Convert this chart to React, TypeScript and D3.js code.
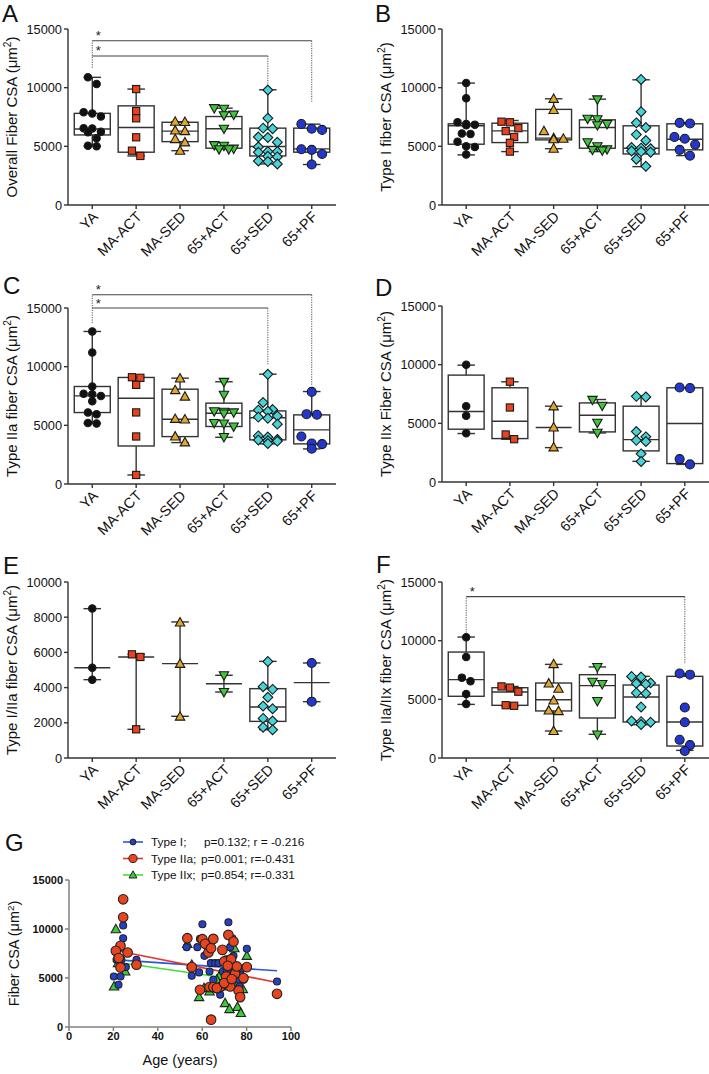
import React from "react";
import * as d3 from "d3";

const FONT = "'Liberation Sans', Arial, Helvetica, sans-serif";

// ---------- categories & styles ----------
const groups = ["YA", "MA-ACT", "MA-SED", "65+ACT", "65+SED", "65+PF"];
const groupColors = ["#111111", "#e8421e", "#e3a62c", "#3fc63a", "#46d4d9", "#2437cc"];
const groupShapes = ["circle", "square", "triangle", "triangleDown", "diamond", "circle"];
const groupSizes = [7.4, 7.2, 8.4, 8.4, 8.2, 9.0];

// ---------- Panel A: Overall fiber CSA ----------
const aPoints = [
  [10880, 10310, 7900, 7800, 7550, 6550, 6530, 6250, 6200, 5680, 5050, 5000],
  [9880, 8010, 7390, 5770, 4630, 4180],
  [7100, 7080, 6350, 6300, 5620, 5340, 4620],
  [8250, 8200, 7700, 7650, 6500, 5100, 5050, 4800, 4750, 4750],
  [9800, 7400, 6550, 6500, 5800, 5750, 5350, 4950, 4550, 4550, 4500, 4150, 4100, 3750, 3700, 3500],
  [6900, 6500, 6400, 4750, 4700, 4350, 3450],
];
// [min, Q1, median, Q3, max]
const aStats = [
  [5030, 5970, 6480, 7810, 10880],
  [4180, 4500, 6600, 8450, 9880],
  [4630, 5400, 6300, 7050, 7100],
  [4780, 4840, 6500, 7540, 8250],
  [3500, 4180, 4980, 6550, 9820],
  [3450, 4500, 4780, 6550, 6890],
];
const aBrackets = [
  { to: "65+PF", level: 14000, drop: 8800 },
  { to: "65+SED", level: 12700, drop: 10050 },
];
const aBracketStart = 11700;

// ---------- Panel B: Type I ----------
const bPoints = [
  [10400, 9100, 7050, 6900, 6850, 6800, 6100, 6050, 5400, 5000, 4950, 4300],
  [7100, 7050, 6550, 6300, 5800, 5300, 4550],
  [9050, 8100, 6300, 5700, 5650, 5600, 4800],
  [9000, 7350, 7300, 6900, 6800, 5350, 5000, 4750, 4700, 4650],
  [10700, 7950, 7000, 6600, 6000, 5500, 4900, 4850, 4800, 4600, 4550, 4500, 3900, 3300],
  [7000, 6950, 5800, 5650, 5150, 4700, 4200],
];
const bStats = [
  [4270, 5180, 6750, 6920, 10390],
  [4550, 5320, 6320, 6970, 7200],
  [4800, 5550, 5700, 8150, 9050],
  [4550, 4840, 6600, 7260, 9020],
  [3270, 4350, 4840, 6750, 10670],
  [4210, 4700, 5610, 6920, 7020],
];

// ---------- Panel C: Type IIa ----------
const cPoints = [
  [13000, 11200, 8300, 7700, 7650, 7500, 7050, 6100, 5950, 5200, 5150],
  [9100, 9050, 8450, 6100, 4050, 770],
  [9000, 8000, 7450, 5550, 5500, 4050, 3550],
  [8700, 7600, 6200, 6150, 6100, 6000, 5200, 5150, 4900, 4000],
  [9350, 6950, 6350, 6300, 6200, 5800, 5700, 5600, 5100, 4100, 4000, 3800, 3750, 3700, 3650, 3450],
  [7850, 5950, 5900, 4050, 3450, 3400, 3000],
];
const cStats = [
  [5180, 6090, 7510, 8310, 13000],
  [770, 3240, 7310, 9080, 9080],
  [3530, 4040, 5520, 8080, 9020],
  [3980, 4900, 6030, 6890, 8710],
  [3420, 3760, 5640, 6230, 9360],
  [2990, 3420, 4610, 5890, 7880],
];
const cBrackets = [
  { to: "65+PF", level: 16130, drop: 8370 },
  { to: "65+SED", level: 15000, drop: 10160 },
];
const cBracketStart = 13720;

// ---------- Panel D: Type IIx ----------
const dPoints = [
  [10000, 6450, 5650, 4150],
  [8550, 6350, 4050, 3650],
  [6450, 4650, 2950],
  [7000, 6500, 5050, 4200],
  [7300, 7250, 4300, 3850, 3550, 3450, 2400, 1750],
  [8050, 8000, 1950, 1500],
];
const dStats = [
  [4130, 4500, 6010, 9110, 9960],
  [3640, 3700, 5180, 8030, 8540],
  [2930, null, 4640, null, 6460],
  [4180, 4270, 5690, 6740, 7030],
  [1760, 2650, 3610, 6460, 7310],
  [1500, 1570, 4980, 8030, 8030],
];

// ---------- Panel E: Type I/IIa ----------
const ePoints = [
  [8500, 5130, 4450],
  [5890, 5740, 1630],
  [7700, 5350, 2350],
  [4700, 3750],
  [5480, 4050, 3900, 3450, 2950, 2800, 2250, 2100, 1750, 1600],
  [5400, 3200],
];
const eStats = [
  [4450, null, 5130, null, 8485],
  [1630, null, 5740, null, 5890],
  [2370, null, 5360, null, 7730],
  [3750, null, 4220, null, 4700],
  [1610, 2080, 2900, 3940, 5490],
  [3200, null, 4280, null, 5400],
];

// ---------- Panel F: Type IIa/IIx ----------
const fPoints = [
  [10300, 8600, 6850, 6550, 5450, 4600],
  [6100, 6000, 5650, 4500, 4450],
  [8000, 6350, 5900, 4900, 4050, 4000, 2300],
  [7750, 6500, 6300, 4850, 2000],
  [6950, 6900, 6400, 6350, 6300, 5550, 5500, 4350, 3150, 3100, 3050, 2850],
  [7200, 7100, 4300, 3050, 1550, 1100, 600],
];
const fStats = [
  [4570, 5260, 6680, 9030, 10310],
  [4430, 4490, 5630, 5990, 6100],
  [2300, 4010, 4970, 6390, 7980],
  [2020, 3410, 6170, 7100, 7760],
  [2840, 3070, 5200, 6220, 6960],
  [650, 1020, 3070, 6960, 7190],
];
const fBrackets = [{ to: "65+PF", level: 13750, drop: 8010 }];
const fBracketStart = 10480;

const ticks15k = [0, 5000, 10000, 15000];
const ticks10k = [0, 2000, 4000, 6000, 8000, 10000];

// ---------- Panel G: Fiber CSA vs age ----------
const gAgeI = [20.2, 21.4, 22.3, 23.2, 23.6, 24.4, 24.4, 25.6, 30.4, 53.0, 55.3, 57.8, 58.6, 59.0, 60.1, 61.0, 63.3, 63.9, 65.0, 65.8, 67.3, 69.3, 68.1, 70.8, 71.8, 72.6, 73.6, 74.1, 71.1, 72.3, 70.3, 74.1, 75.6, 76.4, 77.1, 78.3, 80.1, 78.6, 93.7, 76.8];
const gValI = [5160, 6860, 4310, 5160, 6860, 9060, 10350, 6110, 6860, 8150, 5230, 8150, 5570, 8990, 10490, 7260, 5670, 6520, 4820, 6520, 6520, 5670, 3290, 6920, 10690, 8150, 9060, 7260, 5670, 4820, 4140, 6180, 5230, 4820, 5670, 5970, 7980, 4820, 4650, 4140];
const gAgeIIa = [24.4, 24.4, 23.2, 21.1, 26.4, 22.4, 23.2, 30.4, 53.3, 55.3, 59.0, 60.1, 61.3, 62.8, 64.0, 65.0, 63.3, 65.0, 64.0, 68.1, 69.1, 69.9, 70.8, 71.8, 73.0, 74.1, 72.6, 74.8, 75.6, 76.4, 77.1, 78.6, 80.1, 93.7, 66.6, 69.9, 71.5, 73.3];
const gValIIa = [13030, 11200, 8280, 7770, 7600, 7030, 6080, 6350, 9060, 6110, 3800, 8960, 8490, 7600, 8040, 8990, 4070, 4070, 750, 4070, 7870, 6690, 5160, 9400, 6920, 8720, 4140, 5430, 6180, 3730, 3050, 4990, 6110, 3390, 3970, 4480, 6250, 4890];
const gAgeIIx = [21.1, 20.3, 22.1, 25.3, 53.3, 55.3, 58.6, 60.8, 63.3, 67.6, 70.3, 72.3, 75.9, 77.4, 74.5, 80.1, 78.3, 71.7, 66.6, 73.6];
const gValIIx = [9980, 4140, 6520, 5670, 8490, 6350, 3050, 3970, 3630, 5160, 2440, 1830, 2040, 1430, 8040, 7260, 3870, 5840, 4820, 4550];
const gFitSlope = [-15.6, -45.1, -32.9];
const gFitIntercept = [7194, 8765, 7324];
const gLegendLabels = ["Type I;", "Type IIa;", "Type IIx;"];
const gLegendStats = ["p=0.132; r = -0.216", "p=0.001; r=-0.431", "p=0.854; r=-0.331"];
const gXTicks = [0, 20, 40, 60, 80, 100];
const gYTicks = [0, 5000, 10000, 15000];

// ---------- helpers ----------
function swarm(values: number[], y: (v: number) => number, d: number) {
  const items = values.map((v) => ({ v, py: y(v) })).sort((a, b) => a.py - b.py);
  const rows: { v: number; py: number }[][] = [];
  let cur: { v: number; py: number }[] = [];
  for (const it of items) {
    if (cur.length && cur.length < 3 && it.py - cur[0].py < d * 0.85) cur.push(it);
    else {
      if (cur.length) rows.push(cur);
      cur = [it];
    }
  }
  if (cur.length) rows.push(cur);
  const out: { v: number; py: number; dx: number }[] = [];
  rows.forEach((r) => r.forEach((it, i) => out.push({ ...it, dx: (i - (r.length - 1) / 2) * d * 1.08 })));
  return out;
}

function Marker({ shape, x, y, size, fill, stroke = "#1a1a1a", sw = 1.1 }: any) {
  const s = size;
  if (shape === "circle") return <circle cx={x} cy={y} r={s / 2} fill={fill} stroke={stroke} strokeWidth={sw} />;
  if (shape === "square")
    return <rect x={x - s / 2} y={y - s / 2} width={s} height={s} fill={fill} stroke={stroke} strokeWidth={sw} />;
  let pts: number[][] = [];
  if (shape === "triangle") pts = [[x, y - s * 0.58], [x - s * 0.56, y + s * 0.42], [x + s * 0.56, y + s * 0.42]];
  if (shape === "triangleDown") pts = [[x, y + s * 0.58], [x - s * 0.56, y - s * 0.42], [x + s * 0.56, y - s * 0.42]];
  if (shape === "diamond") pts = [[x, y - s * 0.6], [x + s * 0.6, y], [x, y + s * 0.6], [x - s * 0.6, y]];
  return <polygon points={pts.map((p) => p.join(",")).join(" ")} fill={fill} stroke={stroke} strokeWidth={sw} />;
}

function YLabel({ x, y, text, size = 15 }: any) {
  return (
    <text transform={`translate(${x},${y}) rotate(-90)`} textAnchor="middle" fontSize={size} fill="#111">
      {text}
      <tspan dy={-size * 0.38} fontSize={size * 0.68}>2</tspan>
      <tspan dy={size * 0.38}>)</tspan>
    </text>
  );
}

function BoxPanel(p: any) {
  const { letter, yLabel, yMax, yTicks, points, stats, brackets, bracketStart, x0, x1, yTop, yBottom, letterX, letterY } = p;
  const x = d3.scalePoint<string>().domain(groups).range([x0, x1]).padding(0.553);
  const y = d3.scaleLinear().domain([0, yMax]).range([yBottom, yTop]);
  const step = x.step();
  const bw = step * 0.82;
  const cw = step * 0.4;
  const stroke = "#333";
  const xa = x("YA")!;
  return (
    <g>
      <text x={letterX} y={letterY} fontSize={24} fill="#111">{letter}</text>
      {groups.map((g, i) => {
        const [mn, q1, md, q3, mx] = stats[i];
        const cx = x(g)!;
        return (
          <g key={g}>
            <line x1={cx} x2={cx} y1={y(mn)} y2={y(mx)} stroke={stroke} strokeWidth={1.4} />
            <line x1={cx - cw / 2} x2={cx + cw / 2} y1={y(mn)} y2={y(mn)} stroke={stroke} strokeWidth={1.4} />
            <line x1={cx - cw / 2} x2={cx + cw / 2} y1={y(mx)} y2={y(mx)} stroke={stroke} strokeWidth={1.4} />
            {q1 != null && q3 != null && (
              <rect x={cx - bw / 2} y={y(q3)} width={bw} height={y(q1) - y(q3)} fill="#fff" stroke={stroke} strokeWidth={1.4} />
            )}
            <line x1={cx - bw / 2} x2={cx + bw / 2} y1={y(md)} y2={y(md)} stroke={stroke} strokeWidth={1.4} />
          </g>
        );
      })}
      {brackets && (
        <g>
          <line x1={xa} x2={xa} y1={y(bracketStart)} y2={y(d3.max(brackets, (b: any) => b.level) as number)} stroke="#555" strokeWidth={1} strokeDasharray="1.2,1.2" />
          {brackets.map((b: any, i: number) => (
            <g key={i}>
              <line x1={xa} x2={x(b.to)!} y1={y(b.level)} y2={y(b.level)} stroke="#444" strokeWidth={1.2} />
              <line x1={x(b.to)!} x2={x(b.to)!} y1={y(b.level)} y2={y(b.drop)} stroke="#555" strokeWidth={1} strokeDasharray="1.2,1.2" />
              <text x={xa + 6} y={y(b.level) - 0.5} fontSize={13} textAnchor="middle" fill="#222">*</text>
            </g>
          ))}
        </g>
      )}
      {groups.map((g, i) => {
        const cx = x(g)!;
        const sz = groupSizes[i];
        return (
          <g key={"p" + g}>
            {swarm(points[i], y, sz + 0.6).map((pt, j) => (
              <Marker key={j} shape={groupShapes[i]} x={cx + pt.dx} y={pt.py} size={sz} fill={groupColors[i]} />
            ))}
          </g>
        );
      })}
      {/* axes */}
      <line x1={x0} x2={x0} y1={yTop} y2={yBottom} stroke={stroke} strokeWidth={1.4} />
      <line x1={x0} x2={x1} y1={yBottom} y2={yBottom} stroke={stroke} strokeWidth={1.4} />
      {yTicks.map((t: number) => (
        <g key={t}>
          <line x1={x0 - 4} x2={x0} y1={y(t)} y2={y(t)} stroke={stroke} strokeWidth={1.4} />
          <text x={x0 - 6} y={y(t)} dy="0.36em" textAnchor="end" fontSize={12.8} fill="#111">{t}</text>
        </g>
      ))}
      {groups.map((g) => (
        <g key={"t" + g}>
          <line x1={x(g)!} x2={x(g)!} y1={yBottom} y2={yBottom + 4} stroke={stroke} strokeWidth={1.4} />
          <text transform={`translate(${x(g)! + 3},${yBottom + 9}) rotate(-45)`} textAnchor="end" dy="0.35em" fontSize={14.5} fill="#111">{g}</text>
        </g>
      ))}
      <YLabel x={x0 - 51} y={(yTop + yBottom) / 2} text={yLabel} />
    </g>
  );
}

function ScatterPanel() {
  const x0 = 69, x1 = 291, yTop = 880, yBottom = 1027;
  const x = d3.scaleLinear().domain([0, 100]).range([x0, x1]);
  const y = d3.scaleLinear().domain([0, 15000]).range([yBottom, yTop]);
  const ages = [gAgeI, gAgeIIa, gAgeIIx];
  const vals = [gValI, gValIIa, gValIIx];
  const colors = ["#2540c8", "#e8441e", "#3ec83a"];
  const lineColors = ["#2d55e0", "#e8352a", "#3fe03a"];
  const shapes = ["circle", "circle", "triangle"];
  const sizes = [7, 9.6, 8.4];
  const drawOrder = [2, 0, 1];
  const axisC = "#808080";
  return (
    <g>
      <text x={5} y={851} fontSize={24} fill="#111">G</text>
      {[0, 1, 2].map((s) => {
        const a0 = d3.min(ages[s])!, a1 = d3.max(ages[s])!;
        return (
          <line key={"fit" + s} x1={x(a0)} x2={x(a1)} y1={y(gFitIntercept[s] + gFitSlope[s] * a0)} y2={y(gFitIntercept[s] + gFitSlope[s] * a1)} stroke={lineColors[s]} strokeWidth={1.6} />
        );
      })}
      {drawOrder.map((s) => (
        <g key={"s" + s}>
          {ages[s].map((a, i) => (
            <Marker key={i} shape={shapes[s]} x={x(a)} y={y(vals[s][i])} size={sizes[s]} fill={colors[s]} stroke="#222" sw={1.1} />
          ))}
        </g>
      ))}
      <line x1={x0} x2={x0} y1={yTop} y2={yBottom} stroke={axisC} strokeWidth={1.5} />
      <line x1={x0} x2={x1} y1={yBottom} y2={yBottom} stroke={axisC} strokeWidth={1.5} />
      {gYTicks.map((t) => (
        <g key={"y" + t}>
          <line x1={x0 - 4} x2={x0} y1={y(t)} y2={y(t)} stroke={axisC} strokeWidth={1.5} />
          <text x={x0 - 6} y={y(t)} dy="0.36em" textAnchor="end" fontSize={11} fontWeight="bold" fill="#111">{t}</text>
        </g>
      ))}
      {gXTicks.map((t) => (
        <g key={"x" + t}>
          <line x1={x(t)} x2={x(t)} y1={yBottom} y2={yBottom + 4} stroke={axisC} strokeWidth={1.5} />
          <text x={x(t)} y={yBottom + 13} textAnchor="middle" fontSize={11} fontWeight="bold" fill="#111">{t}</text>
        </g>
      ))}
      <YLabel x={x0 - 50} y={(yTop + yBottom) / 2} text="Fiber CSA (μm" size={14.5} />
      <text x={(x0 + x1) / 2} y={1065} textAnchor="middle" fontSize={14.5} fill="#111">Age (years)</text>
      {gLegendLabels.map((lab, i) => {
        const ly = 842 + i * 16.5;
        return (
          <g key={"l" + i}>
            <line x1={123} x2={143} y1={ly} y2={ly} stroke={lineColors[i]} strokeWidth={1.6} />
            <Marker shape={shapes[i]} x={133} y={ly} size={sizes[i] * 0.85} fill={colors[i]} stroke="#222" sw={1} />
            <text x={151} y={ly} dy="0.36em" fontSize={11.8} fill="#111">
              {lab}
              <tspan x={i === 0 ? 204 : 201}>{gLegendStats[i]}</tspan>
            </text>
          </g>
        );
      })}
    </g>
  );
}

export default function App() {
  return (
    <svg width={709} height={1074} style={{ position: "absolute", left: 0, top: 0, background: "#fff" }} fontFamily={FONT}>
      <rect width={709} height={1074} fill="#fff" />
      <BoxPanel letter="A" yLabel="Overall Fiber CSA (μm" yMax={15000} yTicks={ticks15k} points={aPoints} stats={aStats} brackets={aBrackets} bracketStart={aBracketStart} x0={68} x1={336} yTop={29} yBottom={205} letterX={2} letterY={22} />
      <BoxPanel letter="B" yLabel="Type I fiber CSA (μm" yMax={15000} yTicks={ticks15k} points={bPoints} stats={bStats} x0={442} x1={709} yTop={29} yBottom={205} letterX={375} letterY={22} />
      <BoxPanel letter="C" yLabel="Type IIa fiber CSA (μm" yMax={15000} yTicks={ticks15k} points={cPoints} stats={cStats} brackets={cBrackets} bracketStart={cBracketStart} x0={68} x1={336} yTop={308} yBottom={484} letterX={3} letterY={294} />
      <BoxPanel letter="D" yLabel="Type IIx Fiber CSA (μm" yMax={15000} yTicks={ticks15k} points={dPoints} stats={dStats} x0={442} x1={709} yTop={306} yBottom={482} letterX={375} letterY={296} />
      <BoxPanel letter="E" yLabel="Type I/IIa fiber CSA (μm" yMax={10000} yTicks={ticks10k} points={ePoints} stats={eStats} x0={68} x1={336} yTop={582} yBottom={758} letterX={3} letterY={574} />
      <BoxPanel letter="F" yLabel="Type IIa/IIx fiber CSA (μm" yMax={15000} yTicks={ticks15k} points={fPoints} stats={fStats} brackets={fBrackets} bracketStart={fBracketStart} x0={442} x1={709} yTop={582} yBottom={758} letterX={376} letterY={573} />
      <ScatterPanel />
    </svg>
  );
}
